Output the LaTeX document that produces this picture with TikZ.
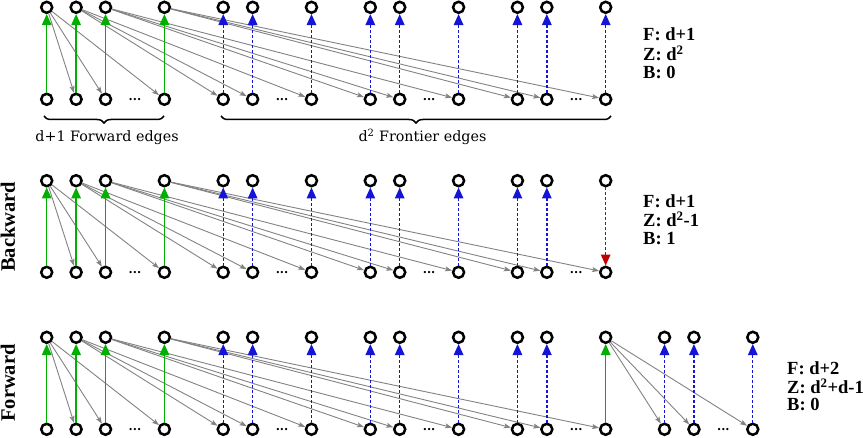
\documentclass[tikz,border=0pt]{standalone}
\usepackage{fontspec}
\setmainfont{Liberation Serif}
\newfontfamily\djv{DejaVu Serif}
\usetikzlibrary{arrows.meta,decorations.pathreplacing}
\definecolor{fgreen}{RGB}{0,175,0}
\definecolor{fblue}{RGB}{20,20,215}
\definecolor{fred}{RGB}{195,0,0}
\definecolor{egray}{RGB}{130,130,130}
\begin{document}
\begin{tikzpicture}[x=1pt,y=-1pt,
 vtx/.style={circle,draw=black,line width=2.5pt,minimum size=11pt,inner sep=0pt,fill=white},
 ellip/.style={font=\djv\bfseries\fontsize{12}{12}\selectfont,inner sep=0pt},
 treeedge/.style={draw=egray,line width=0.9pt,-{Stealth[length=7pt,width=5pt,inset=1.5pt]}},
 fwd/.style={draw=fgreen,line width=1.5pt,-{Triangle[length=11pt,width=9.5pt]}},
 fro/.style={draw=fblue,line width=1.4pt,dash pattern=on 3pt off 2pt,-{Triangle[length=11pt,width=9.5pt]}},
 bck/.style={draw=fred,line width=1.4pt,dash pattern=on 3pt off 2pt,-{Triangle[length=11pt,width=9.5pt]}},
 stat/.style={font=\bfseries\fontsize{18.5}{20}\selectfont,anchor=base west,inner sep=0pt},
 side/.style={font=\bfseries\fontsize{20.5}{22}\selectfont,rotate=90,anchor=base,inner sep=0pt},
 brc/.style={decorate,decoration={brace,amplitude=7pt,mirror},line width=1.5pt},
 captxt/.style={font=\djv\fontsize{14.3}{16}\selectfont,anchor=base,inner sep=0pt}
]
\useasboundingbox (0,0) rectangle (863,438);
% nodes
\foreach \p/\yt/\yb in {1/7.3/99.3, 2/180.7/272.3, 3/337.3/429.3} {
  \foreach \i in {0,1,2,4,6,7,9,11,12,14,16,17,19} {
    \node[vtx] (p\p t\i) at ({46.7+29.42*\i},\yt) {};
    \node[vtx] (p\p b\i) at ({46.7+29.42*\i},\yb) {};
  }
  \foreach \i in {3,8,13,18} \node[ellip] (p\p d\i) at ({46.7+29.42*\i},\yb) {...};
}
\foreach \i in {21,22,24} {
  \node[vtx] (p3t\i) at ({46.7+29.42*\i},337.3) {};
  \node[vtx] (p3b\i) at ({46.7+29.42*\i},429.3) {};
}
\node[ellip] (p3d23) at ({46.7+29.42*23},429.3) {...};
% tree edges
\foreach \p in {1,2,3} {
  \foreach \s/\t in {0/1,0/2,0/4,1/6,1/7,1/9,2/11,2/12,2/14,4/16,4/17,4/19}
    \draw[treeedge] (p\p t\s) -- (p\p b\t);
  \foreach \i in {0,1,2,4} \draw[fwd] (p\p b\i) -- (p\p t\i);
}
\foreach \t in {21,22,24} \draw[treeedge] (p3t19) -- (p3b\t);
% frontier edges
\foreach \i in {6,7,9,11,12,14,16,17,19} \draw[fro] (p1b\i) -- (p1t\i);
\foreach \i in {6,7,9,11,12,14,16,17} \draw[fro] (p2b\i) -- (p2t\i);
\foreach \i in {6,7,9,11,12,14,16,17,21,22,24} \draw[fro] (p3b\i) -- (p3t\i);
\draw[bck] (p2t19) -- (p2b19);
\draw[fwd] (p3b19) -- (p3t19);
% braces and captions
\draw[brc] (44,116) -- (164,116);
\draw[brc] (221,116) -- (611,116);
\node[captxt] (capf) at (107,141.7) {d+1 Forward edges};
\node[captxt] (capz) at (422.5,141.7) {d\textsuperscript{2} Frontier edges};
% side labels
\node[side] (lbB) at (15,226.7) {Backward};
\node[side] (lbF) at (15,383) {Forward};
% stats
\node[stat] (s1f) at (643,40.7) {F: d+1};
\node[stat] (s1z) at (643,61) {Z: d\textsuperscript{2}};
\node[stat] (s1b) at (643,79) {B: 0};
\node[stat] (s2f) at (643,207.3) {F: d+1};
\node[stat] (s2z) at (643,226.7) {Z: d\textsuperscript{2}-1};
\node[stat] (s2b) at (643,245) {B: 1};
\node[stat] (s3f) at (787,374.3) {F: d+2};
\node[stat] (s3z) at (787,394) {Z: d\textsuperscript{2}+d-1};
\node[stat] (s3b) at (787,410.7) {B: 0};
\end{tikzpicture}
\end{document}
